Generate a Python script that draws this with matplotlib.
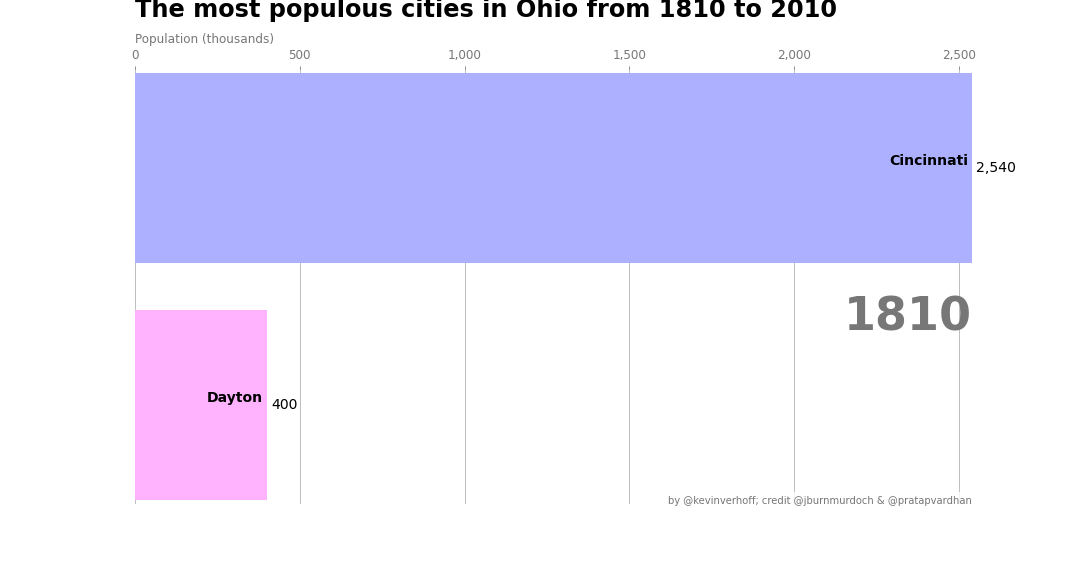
import matplotlib
matplotlib.use("Agg")
import matplotlib.pyplot as plt
import matplotlib.ticker as ticker

# Frame data (year 1810), smallest first so the largest sits on top
year = 1810
cities = ["Dayton", "Cincinnati"]
population = [400, 2540]
bar_colors = ["#ffb3ff", "#adb0ff"]

fig, ax = plt.subplots(figsize=(15, 8), dpi=72)
fig.subplots_adjust(left=0.125, right=0.9, top=0.88, bottom=0.125)

ax.barh(cities, population, color=bar_colors)
dx = max(population) / 200
for i, (name, value) in enumerate(zip(cities, population)):
    ax.text(value - dx, i, name, size=14, weight=600, ha="right", va="bottom")
    ax.text(value + dx, i, f"{value:,.0f}", size=14, ha="left", va="center")

ax.text(1, 0.4, year, transform=ax.transAxes, color="#777777", size=46,
        ha="right", weight=800)
ax.text(0, 1.06, "Population (thousands)", transform=ax.transAxes,
        size=12, color="#777777")
ax.xaxis.set_major_formatter(ticker.StrMethodFormatter("{x:,.0f}"))
ax.xaxis.set_ticks_position("top")
ax.tick_params(axis="x", colors="#777777", labelsize=12)
ax.set_yticks([])
ax.margins(0, 0.01)
ax.grid(which="major", axis="x", linestyle="-")
ax.set_axisbelow(True)
ax.text(0, 1.12, "The most populous cities in Ohio from 1810 to 2010",
        transform=ax.transAxes, size=24, weight=600, ha="left")
ax.text(1, 0, "by @kevinverhoff; credit @jburnmurdoch & @pratapvardhan",
        transform=ax.transAxes, ha="right", color="#777777",
        bbox=dict(facecolor="white", alpha=0.8, edgecolor="white"))
plt.box(False)

plt.savefig("out.png", dpi=72)
